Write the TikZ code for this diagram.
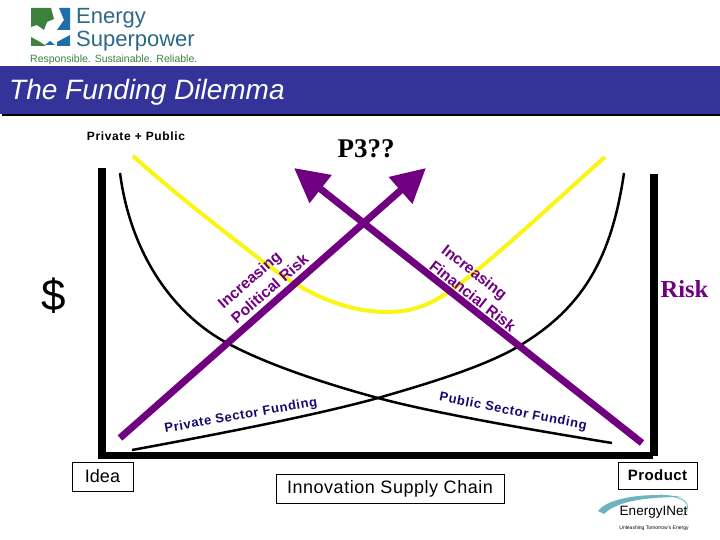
\documentclass[tikz,border=0pt]{standalone}
\usepackage{fontspec}
\setmainfont{Liberation Sans}
\newfontfamily\serifbold{Liberation Serif}[Scale=1]
\usepackage{tikz}
\usetikzlibrary{arrows.meta, positioning}
\definecolor{bannerblue}{RGB}{51,51,153}
\definecolor{riskpurple}{RGB}{112,0,128}
\definecolor{curveyellow}{RGB}{250,245,20}
\definecolor{fundnavy}{RGB}{20,10,110}
\definecolor{leafgreen}{RGB}{60,130,60}
\definecolor{leafblue}{RGB}{30,110,170}
\definecolor{esteal}{RGB}{45,105,135}
\definecolor{swooshteal}{RGB}{110,180,190}
\tikzset{
  boxlabel/.style={draw, line width=0.8pt, fill=white, inner sep=0pt, font=\fontsize{18}{20}\selectfont},
  riskarrow/.style={line width=7pt, riskpurple, -{Triangle[length=34pt, width=34pt]}},
  risktext/.style={text=riskpurple, font=\bfseries\fontsize{15.5}{20}\selectfont, align=left, inner sep=0pt},
  fundtext/.style={text=fundnavy, font=\bfseries\fontsize{13}{14}\selectfont\addfontfeature{LetterSpace=5}, inner sep=0pt},
  fundcurve/.style={line width=2.5pt, black}
}
\begin{document}
\begin{tikzpicture}[x=1pt, y=-1pt]
    \useasboundingbox (0,0) rectangle (720,540);
    \fill[white] (0,0) rectangle (720,540);

    % Banner
    \fill[black] (2,70) rectangle (720,116);
    \fill[bannerblue] (0,66) rectangle (720,114);
    \node[text=white, font=\itshape\fontsize{28}{30}\selectfont, anchor=west, inner sep=0pt] (title) at (9,92.5) {The Funding Dilemma};

    % Energy Superpower logo
    \fill[leafgreen] (31,8) -- (51,8) -- (54,19) -- (47,22) -- (44,30) -- (37,25) -- (31,27) -- cycle;
    \fill[leafblue] (59,8) -- (70,8) -- (70,30) -- (57,30) -- (64,20) -- cycle;
    \fill[leafgreen] (31,37) -- (40,42) -- (46,46) -- (31,46) -- cycle;
    \fill[leafblue] (45,45) -- (50,41) -- (55,45) -- cycle;
    \fill[leafblue] (57,42) -- (70,35) -- (70,46) -- (57,46) -- cycle;
    \node[text=esteal, font=\fontsize{22}{22}\selectfont, anchor=west, inner sep=0pt] (energy) at (76,18) {Energy};
    \node[text=esteal, font=\fontsize{22}{22}\selectfont, anchor=west, inner sep=0pt] (superpower) at (76,41) {Superpower};
    \node[text=leafgreen, font=\fontsize{10.5}{11}\selectfont, anchor=west, inner sep=0pt] (motto) at (30,60) {Responsible. Sustainable. Reliable.};

    % Axes
    \draw[line width=8pt] (102,168) -- (102,456);
    \draw[line width=7pt] (98,455.5) -- (653,455.5);
    \draw[line width=8pt] (654,174) -- (654,456);

    % Curves
    \draw[line width=4pt, curveyellow] (133,156) .. controls (180,198) and (225,232) .. (257,257)
        .. controls (290,283) and (335,312) .. (387,312)
        .. controls (420,312) and (440,300) .. (470,276)
        .. controls (510,244) and (560,197) .. (605,157);
    \draw[fundcurve] (120,173) .. controls (130,250) and (170,312) .. (227,343)
        .. controls (270,366) and (330,385) .. (378,398)
        .. controls (430,412) and (520,428) .. (612,443);
    \draw[fundcurve] (624,173) .. controls (612,255) and (585,305) .. (524,343)
        .. controls (490,365) and (430,383) .. (378,398)
        .. controls (320,414) and (230,432) .. (132,450);

    % Risk arrows
    \coordinate (polstart) at (120,438);
    \coordinate (polend) at (426,168);
    \coordinate (finstart) at (642,443);
    \coordinate (finend) at (294,168);
    \draw[riskarrow] (polstart) -- (polend);
    \draw[riskarrow] (finstart) -- (finend);

    % Labels on the arrows
    \node[risktext, rotate=41] (polrisk) at (263,281) {Increasing\\Political Risk};
    \node[risktext, rotate=-38] (finrisk) at (479,288) {Increasing\\Financial Risk};
    \node[fundtext, rotate=10] (privfund) at (241,416) {Private Sector Funding};
    \node[fundtext, rotate=-11] (pubfund) at (513,412) {Public Sector Funding};

    % Other labels
    \node[font=\bfseries\fontsize{12}{14}\selectfont\addfontfeature{LetterSpace=5.5}] (ppp) at (136,136) {Private + Public};
    \node[font=\serifbold\bfseries\fontsize{27}{29}\selectfont] (pthree) at (366,149) {P3??};
    \node[font=\fontsize{44}{46}\selectfont] (dollar) at (53.5,296) {\$};
    \node[text=riskpurple, font=\serifbold\bfseries\fontsize{24.5}{26}\selectfont] (risk) at (684.5,289) {Risk};

    % Axis boxes
    \node[boxlabel, minimum width=61pt, minimum height=29pt] (idea) at (102.5,476.5) {Idea};
    \node[boxlabel, minimum width=228pt, minimum height=29pt, font=\fontsize{18}{20}\selectfont\addfontfeature{LetterSpace=3}] (chain) at (390,488.5) {Innovation Supply Chain};
    \node[boxlabel, minimum width=79pt, minimum height=27pt, font=\bfseries\fontsize{15}{17}\selectfont\addfontfeature{LetterSpace=3}] (product) at (657.5,475.5) {Product};

    % EnergyINet logo
    \fill[swooshteal] (598,511) .. controls (608,497) and (650,492) .. (682,497)
        .. controls (650,497) and (618,500) .. (604,514) -- cycle;
    \draw[swooshteal, line width=0.8pt] (660,495) .. controls (680,496) and (696,502) .. (683,516);
    \node[font=\fontsize{13.5}{15}\selectfont, inner sep=0pt] (inet) at (653.5,512) {EnergyINet};
    \node[font=\fontsize{5}{6}\selectfont, inner sep=0pt] (slogan) at (654,528) {Unleashing Tomorrow's Energy};
\end{tikzpicture}
\end{document}
